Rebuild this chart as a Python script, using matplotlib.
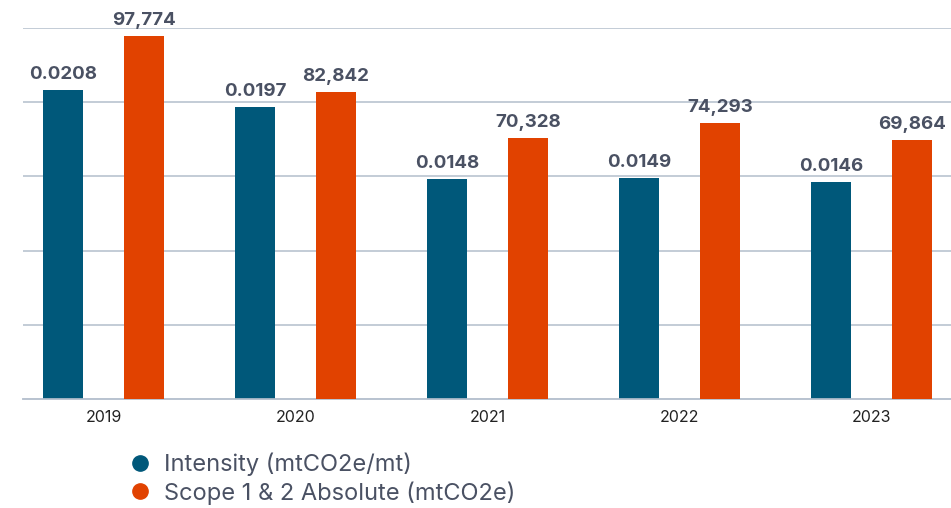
import numpy as np
import matplotlib
matplotlib.use("Agg")
import matplotlib.pyplot as plt
from matplotlib.lines import Line2D

plt.rcParams['font.family'] = ['Inter', 'DejaVu Sans']

years = ["2019", "2020", "2021", "2022", "2023"]
intensity = [0.0208, 0.0197, 0.0148, 0.0149, 0.0146]
absolute = [97774, 82842, 70328, 74293, 69864]
intensity_labels = ["0.0208", "0.0197", "0.0148", "0.0149", "0.0146"]
absolute_labels = ["97,774", "82,842", "70,328", "74,293", "69,864"]

blue = "#00587a"
orange = "#e14200"
grid_c = "#b9c3d0"
text_c = "#4a5163"

W, H = 951, 508
fig = plt.figure(figsize=(W / 100, H / 100), dpi=100)
ax = fig.add_axes([23 / W, 1 - 399 / H, 1 - 23 / W, (399 - 28) / H])
ax2 = ax.twinx()

x = np.arange(len(years))
bw = 0.208
off = 0.211

ax.bar(x - off, intensity, bw, color=blue, zorder=3)
ax2.bar(x + off, absolute, bw, color=orange, zorder=3)

ax.set_ylim(0, 0.025)
ax2.set_ylim(0, 100000)
ax.set_xlim(-0.419, 4.414)
ax.set_yticks(np.arange(0, 0.0251, 0.005))
ax.grid(axis='y', color=grid_c, lw=1.2, zorder=0)
ax.tick_params(axis='y', left=False, labelleft=False)
ax2.tick_params(axis='y', right=False, labelright=False)
ax.set_xticks(x)
ax.set_xticklabels(years, fontsize=11.5, color="#222222")
ax.tick_params(axis='x', length=0, pad=8)

for a in (ax, ax2):
    for s in ("top", "left", "right"):
        a.spines[s].set_visible(False)
    a.spines["bottom"].set_color(grid_c)
    a.spines["bottom"].set_linewidth(1.2)

for xi, v, t in zip(x, intensity, intensity_labels):
    ax.annotate(t, (xi - off, v), xytext=(0, 5), textcoords="offset points",
                ha="center", va="bottom", fontsize=13.5, fontweight="bold", color=text_c)
for xi, v, t in zip(x, absolute, absolute_labels):
    ax2.annotate(t, (xi + off, v), xytext=(0, 5), textcoords="offset points",
                 ha="center", va="bottom", fontsize=13.5, fontweight="bold", color=text_c)

handles = [
    Line2D([], [], marker="o", ls="", color=blue, markersize=11),
    Line2D([], [], marker="o", ls="", color=orange, markersize=11),
]
fig.legend(handles, ["Intensity (mtCO2e/mt)", "Scope 1 & 2 Absolute (mtCO2e)"],
           loc="upper left", bbox_to_anchor=(114 / W, 1 - 441 / H), frameon=False,
           fontsize=17, labelcolor=text_c, handletextpad=0.4, labelspacing=0.2,
           borderpad=0, handlelength=1.2)

fig.savefig("out.png", dpi=100)
